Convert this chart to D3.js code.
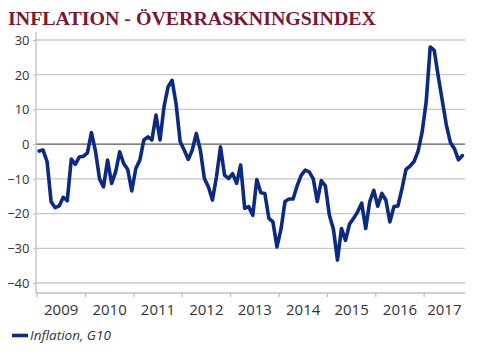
<!DOCTYPE html>
<html>
<head>
<meta charset="utf-8">
<script src="https://cdn.jsdelivr.net/npm/d3@7/dist/d3.min.js"></script>
<style>
  html, body { margin: 0; padding: 0; background: #ffffff; }
  svg { display: block; }
</style>
</head>
<body>
<svg id="chart" width="488" height="358"></svg>
<script>
// ---- data ----
const title = "INFLATION - ÖVERRASKNINGSINDEX";
const seriesName = "Inflation, G10";
const years = ["2009", "2010", "2011", "2012", "2013", "2014", "2015", "2016", "2017"];
const yTicks = [-40, -30, -20, -10, 0, 10, 20, 30];
// monthly values, Jan 2009 .. Oct 2017
const v2009 = [-2, -1.7, -5, -16.6, -18.3, -17.8, -15.3, -16.3, -4.3, -5.8, -3.7, -3.5];
const v2010 = [-2.5, 3.3, -2, -10, -12.3, -4.6, -11.3, -8, -2.2, -5.6, -7.3, -13.5];
const v2011 = [-7, -4.6, 1.2, 2.1, 1.2, 8.4, 1.2, 10.8, 16.5, 18.4, 11.5, 0.7];
const v2012 = [-1.7, -4.4, -1.7, 3.1, -1.7, -9.9, -12.3, -16.1, -9.4, -0.8, -8.9, -9.9];
const v2013 = [-8.5, -11.3, -6, -18.5, -18, -20.5, -10.2, -14, -14.2, -21.4, -22.4, -29.6];
const v2014 = [-24.5, -16.5, -15.8, -15.8, -12, -9, -7.5, -8, -10, -16.5, -10.5, -12];
const v2015 = [-20.5, -24.5, -33.4, -24.3, -27.7, -23, -21.4, -19.5, -17, -24.3, -16.6, -13.3];
const v2016 = [-17.9, -14.2, -16.1, -22.4, -18, -17.8, -12.8, -7.3, -6.3, -5, -2, 3.5];
const v2017 = [12.2, 28, 27, 19.5, 12.5, 5.5, 0.5, -1.3, -4.5, -3.3];
const values = [].concat(v2009, v2010, v2011, v2012, v2013, v2014, v2015, v2016, v2017);

// ---- layout ----
const svg = d3.select("#chart");
const plotLeft = 36, plotRight = 465;
const xStart = 37, xEnd = 464.5;
const axisY = 293;

const x = d3.scaleLinear().domain([0, values.length]).range([xStart, xEnd]);
const y = d3.scaleLinear().domain([-40, 30]).range([283, 40]);

// title
svg.append("text")
  .attr("x", 8).attr("y", 25)
  .attr("font-family", "'Liberation Serif', 'DejaVu Serif', serif")
  .attr("font-weight", "bold")
  .attr("font-size", 18)
  .attr("fill", "#7a1731")
  .attr("textLength", 368)
  .attr("lengthAdjust", "spacingAndGlyphs")
  .text(title);

// gridlines
svg.append("g").selectAll("line").data(yTicks).join("line")
  .attr("x1", plotLeft).attr("x2", plotRight)
  .attr("y1", d => y(d)).attr("y2", d => y(d))
  .attr("stroke", d => d === 0 ? "#5a5a5a" : "#c8c8c8")
  .attr("stroke-width", 1.3);

// y axis
const yAxis = d3.axisLeft(y).tickValues(yTicks).tickSize(3).tickFormat(d3.format("d"));
const gy = svg.append("g").attr("transform", `translate(${plotLeft},0)`).call(yAxis);
gy.select(".domain").remove();
gy.selectAll(".tick line").attr("stroke", "#bfbfbf");
gy.selectAll(".tick text")
  .attr("font-family", "'Open Sans', sans-serif")
  .attr("font-size", 13).attr("fill", "#333").attr("x", -6.5).attr("dy", "0.34em");
svg.append("line")
  .attr("x1", plotLeft).attr("x2", plotLeft).attr("y1", 32).attr("y2", axisY)
  .attr("stroke", "#bfbfbf").attr("stroke-width", 1.3);

// x axis
svg.append("line")
  .attr("x1", plotLeft).attr("x2", plotRight).attr("y1", axisY).attr("y2", axisY)
  .attr("stroke", "#bfbfbf").attr("stroke-width", 1.3);
const yearIdx = years.map((yr, k) => k * 12);
svg.append("g").selectAll("line").data(yearIdx).join("line")
  .attr("x1", d => x(d)).attr("x2", d => x(d))
  .attr("y1", axisY).attr("y2", axisY + 4)
  .attr("stroke", "#bfbfbf").attr("stroke-width", 1.3);
svg.append("g").selectAll("text").data(years).join("text")
  .attr("x", (d, k) => x((k * 12 + Math.min((k + 1) * 12, values.length)) / 2))
  .attr("y", 315)
  .attr("text-anchor", "middle")
  .attr("font-family", "'Open Sans', sans-serif")
  .attr("font-size", 15).attr("fill", "#333")
  .text(d => d);

// line
const line = d3.line().x((d, i) => x(i + 0.5)).y(d => y(d));
svg.append("path")
  .datum(values)
  .attr("d", line)
  .attr("fill", "none")
  .attr("stroke", "#0c2a82")
  .attr("stroke-width", 3.6)
  .attr("stroke-linejoin", "round")
  .attr("stroke-linecap", "round");

// legend
svg.append("line")
  .attr("x1", 12).attr("x2", 28).attr("y1", 335.5).attr("y2", 335.5)
  .attr("stroke", "#0c2a82").attr("stroke-width", 3.6);
svg.append("text")
  .attr("x", 30).attr("y", 340)
  .attr("font-family", "'Open Sans', sans-serif")
  .attr("font-style", "italic")
  .attr("font-size", 13.5).attr("fill", "#333")
  .text(seriesName);
</script>
</body>
</html>
